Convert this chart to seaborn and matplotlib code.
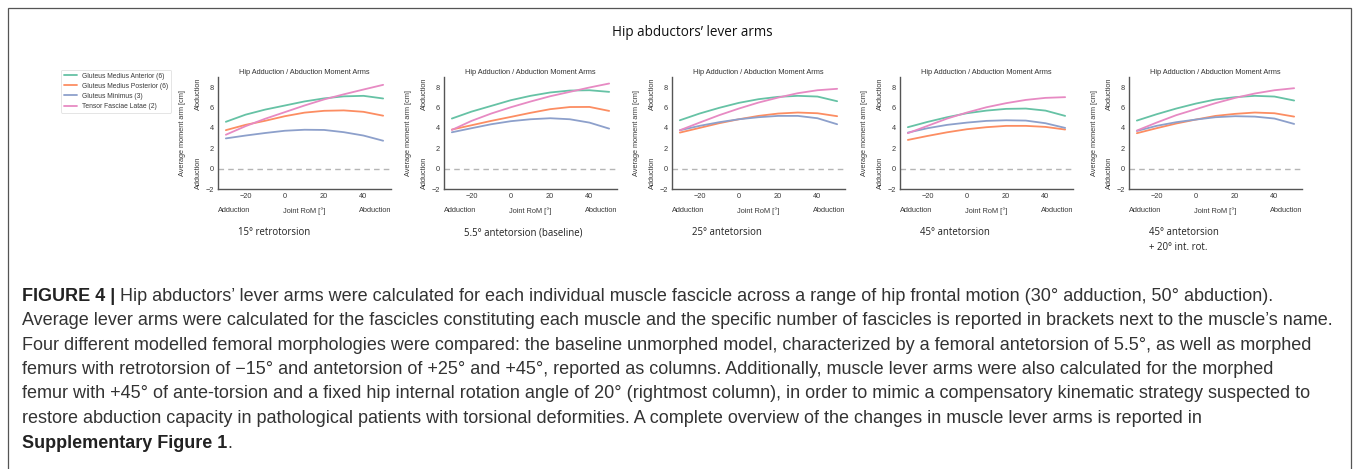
import numpy as np
import pandas as pd
import matplotlib
matplotlib.use("Agg")
import matplotlib.pyplot as plt
import seaborn as sns
from matplotlib.patches import Rectangle
from matplotlib.transforms import ScaledTranslation

# ---------------- data ----------------
joint_rom = [-30, -20, -10, 0, 10, 20, 30, 40, 50]
muscles = ["Gluteus Medius Anterior (6)", "Gluteus Medius Posterior (6)",
           "Gluteus Minimus (3)", "Tensor Fasciae Latae (2)"]
conditions = ["15° retrotorsion", "5.5° antetorsion (baseline)", "25° antetorsion",
              "45° antetorsion", "45° antetorsion\n+ 20° int. rot."]

retro15_gmed_ant = [4.60, 5.30, 5.80, 6.20, 6.60, 6.90, 7.10, 7.15, 6.89]
retro15_gmed_post = [3.78, 4.30, 4.70, 5.15, 5.50, 5.68, 5.72, 5.58, 5.20]
retro15_gmin = [2.97, 3.25, 3.50, 3.72, 3.82, 3.80, 3.58, 3.25, 2.74]
retro15_tfl = [3.33, 4.17, 4.90, 5.55, 6.20, 6.80, 7.30, 7.77, 8.23]

base_gmed_ant = [4.92, 5.60, 6.16, 6.72, 7.15, 7.48, 7.67, 7.70, 7.54]
base_gmed_post = [3.84, 4.26, 4.69, 5.08, 5.48, 5.84, 6.05, 6.06, 5.67]
base_gmin = [3.57, 3.97, 4.36, 4.66, 4.85, 4.95, 4.85, 4.52, 3.93]
base_tfl = [3.80, 4.69, 5.41, 6.03, 6.59, 7.11, 7.54, 7.97, 8.36]

ante25_gmed_ant = [4.75, 5.41, 5.97, 6.46, 6.82, 7.05, 7.15, 7.08, 6.62]
ante25_gmed_post = [3.54, 4.00, 4.46, 4.85, 5.18, 5.41, 5.51, 5.44, 5.15]
ante25_gmin = [3.77, 4.20, 4.56, 4.85, 5.05, 5.18, 5.18, 4.95, 4.36]
ante25_tfl = [3.77, 4.52, 5.25, 5.90, 6.49, 6.98, 7.41, 7.70, 7.84]

ante45_gmed_ant = [4.07, 4.59, 5.05, 5.44, 5.70, 5.87, 5.90, 5.70, 5.18]
ante45_gmed_post = [2.82, 3.21, 3.57, 3.87, 4.07, 4.20, 4.20, 4.10, 3.84]
ante45_gmin = [3.54, 3.97, 4.30, 4.52, 4.69, 4.75, 4.72, 4.46, 4.00]
ante45_tfl = [3.48, 4.20, 4.92, 5.51, 6.03, 6.43, 6.75, 6.95, 7.02]

ante45ir_gmed_ant = [4.72, 5.34, 5.90, 6.39, 6.79, 7.02, 7.15, 7.08, 6.69]
ante45ir_gmed_post = [3.48, 3.97, 4.43, 4.82, 5.18, 5.38, 5.51, 5.44, 5.11]
ante45ir_gmin = [3.70, 4.20, 4.56, 4.82, 5.05, 5.15, 5.11, 4.92, 4.39]
ante45ir_tfl = [3.74, 4.52, 5.25, 5.84, 6.43, 6.95, 7.38, 7.70, 7.90]

panel_series = [
    [retro15_gmed_ant, retro15_gmed_post, retro15_gmin, retro15_tfl],
    [base_gmed_ant, base_gmed_post, base_gmin, base_tfl],
    [ante25_gmed_ant, ante25_gmed_post, ante25_gmin, ante25_tfl],
    [ante45_gmed_ant, ante45_gmed_post, ante45_gmin, ante45_tfl],
    [ante45ir_gmed_ant, ante45ir_gmed_post, ante45ir_gmin, ante45ir_tfl],
]

x_ticks = [-20, 0, 20, 40]
y_ticks = [-2, 0, 2, 4, 6, 8]

caption_lines = [
    " Hip abductors’ lever arms were calculated for each individual muscle fascicle across a range of hip frontal motion (30° adduction, 50° abduction).",
    "Average lever arms were calculated for the fascicles constituting each muscle and the specific number of fascicles is reported in brackets next to the muscle’s name.",
    "Four different modelled femoral morphologies were compared: the baseline unmorphed model, characterized by a femoral antetorsion of 5.5°, as well as morphed",
    "femurs with retrotorsion of −15° and antetorsion of +25° and +45°, reported as columns. Additionally, muscle lever arms were also calculated for the morphed",
    "femur with +45° of ante-torsion and a fixed hip internal rotation angle of 20° (rightmost column), in order to mimic a compensatory kinematic strategy suspected to",
    "restore abduction capacity in pathological patients with torsional deformities. A complete overview of the changes in muscle lever arms is reported in",
]

rows = []
for cond, series in zip(conditions, panel_series):
    for m, vals in zip(muscles, series):
        for xv, yv in zip(joint_rom, vals):
            rows.append({"Condition": cond, "Muscle": m, "Joint RoM": xv, "Moment arm": yv})
df = pd.DataFrame(rows)

# ---------------- style ----------------
sns.set_theme(style="white")
plt.rcParams["font.family"] = ["Liberation Sans", "DejaVu Sans"]

W, H = 1357, 469
fig = plt.figure(figsize=(W / 100, H / 100), dpi=100)

palette = sns.color_palette("Set2", 4)

def fx(px):
    return px / W

def fy(py):
    return 1 - py / H

ax_lefts = [218, 444, 672, 900, 1129]
ax_w = 173
ax_top, ax_bot = 77, 189
small = 5.3
text_col = "#3a3a3a"

handles = labels = None
for i, cond in enumerate(conditions):
    ax = fig.add_axes([fx(ax_lefts[i]), fy(ax_bot), ax_w / W, (ax_bot - ax_top) / H])
    sub = df[df["Condition"] == cond]
    sns.lineplot(data=sub, x="Joint RoM", y="Moment arm", hue="Muscle",
                 hue_order=muscles, palette=palette, linewidth=1.3, ax=ax,
                 legend=(i == 0))
    if i == 0:
        handles, labels = ax.get_legend_handles_labels()
        ax.get_legend().remove()
    ax.axhline(0, color="#b5b5b5", lw=1.0, ls=(0, (4, 3)), zorder=0)
    ax.set_ylim(-2, 9)
    ax.set_yticks(y_ticks)
    ax.set_xticks(x_ticks)
    ax.tick_params(labelsize=small, pad=3.0, length=0, colors=text_col)
    ax.set_xlabel("")
    ax.set_ylabel("")
    ax.set_title("Hip Adduction / Abduction Moment Arms", fontsize=small, pad=2, color="#333333")
    sns.despine(ax=ax)
    for s in ("left", "bottom"):
        ax.spines[s].set_color("#555555")
        ax.spines[s].set_linewidth(1.0)

    def tr(dx, dy):
        return ax.transAxes + ScaledTranslation(dx / 100, dy / 100, fig.dpi_scale_trans)

    ax.text(0, 0, "Adduction", transform=tr(0, -21.7), ha="left", va="center",
            fontsize=small, color=text_col)
    ax.text(0.5, 0, "Joint RoM [°]", transform=tr(0, -21.7), ha="center", va="center",
            fontsize=small, color=text_col)
    ax.text(1, 0, "Abduction", transform=tr(0, -21.7), ha="right", va="center",
            fontsize=small, color=text_col)
    ax.text(0, 1, "Abduction", transform=tr(-20, 0), ha="center", va="top",
            rotation=90, fontsize=small, color=text_col)
    ax.text(0, 0, "Adduction", transform=tr(-20, 0), ha="center", va="bottom",
            rotation=90, fontsize=small, color=text_col)
    ax.text(0, 0.5, "Average moment arm [cm]", transform=tr(-35, 0), ha="center",
            va="center", rotation=90, fontsize=small, color=text_col)

    fig.text(fx(ax_lefts[i] + 20), fy(227), cond, ha="left", va="top",
             fontsize=6.9, family=["Open Sans", "DejaVu Sans"], color="#222222",
             linespacing=1.45)

leg = fig.legend(handles, labels, loc="upper left", bbox_to_anchor=(fx(61), fy(70)),
                 fontsize=4.9, frameon=True, handlelength=2.0, labelspacing=0.45,
                 handletextpad=0.7, borderpad=0.4, borderaxespad=0)
leg.get_frame().set_edgecolor("0.85")
leg.get_frame().set_linewidth(0.6)
for t in leg.get_texts():
    t.set_color(text_col)

fig.text(fx(692), fy(33), "Hip abductors’ lever arms", ha="center", va="center",
         fontsize=9.75, family=["Open Sans", "DejaVu Sans"], color="#111111")

# figure frame
fig.patches.append(Rectangle((fx(8), -0.02), fx(1351) - fx(8), fy(8) + 0.02,
                             transform=fig.transFigure, fill=False,
                             edgecolor="#555555", lw=0.9))

# caption
cap_x = fx(22)
cap_y0 = 296
cap_dy = 24.5
cap_size = 13.0
cap_col = "#333333"
fig.canvas.draw()
renderer = fig.canvas.get_renderer()
b = fig.text(cap_x, fy(cap_y0), "FIGURE 4 |", ha="left", va="center",
             fontsize=cap_size, fontweight="bold", color="#222222")
bb = b.get_window_extent(renderer)
fig.text(bb.x1 / W, fy(cap_y0), caption_lines[0], ha="left", va="center",
         fontsize=cap_size, color=cap_col)
for k in range(1, 6):
    fig.text(cap_x, fy(cap_y0 + k * cap_dy), caption_lines[k], ha="left", va="center",
             fontsize=cap_size, color=cap_col)
b2 = fig.text(cap_x, fy(cap_y0 + 6 * cap_dy), "Supplementary Figure 1", ha="left",
              va="center", fontsize=cap_size, fontweight="bold", color="#222222")
bb2 = b2.get_window_extent(renderer)
fig.text(bb2.x1 / W, fy(cap_y0 + 6 * cap_dy), ".", ha="left", va="center",
         fontsize=cap_size, color=cap_col)

fig.savefig("out.png", dpi=100)
